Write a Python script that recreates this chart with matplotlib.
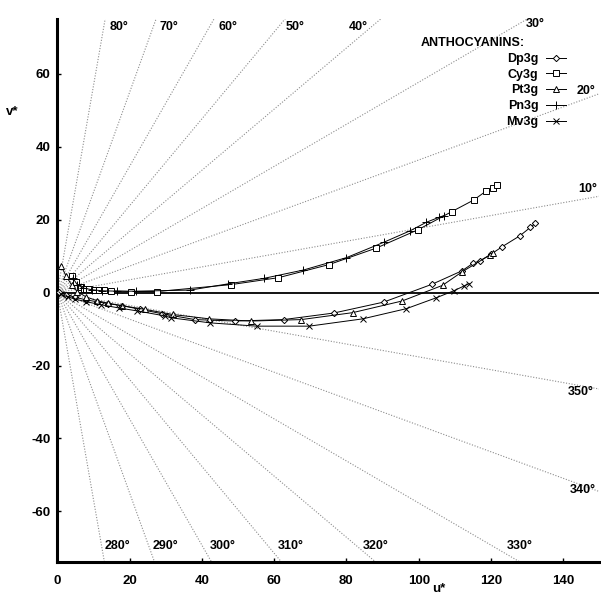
import numpy as np
import matplotlib.pyplot as plt

plt.rcParams['font.family'] = ['Liberation Sans', 'DejaVu Sans']
plt.rcParams['font.weight'] = 'bold'
plt.rcParams['axes.unicode_minus'] = False

# CIELUV u*, v* coordinates for each pigment
dp3g_u = [0.5, 2.5, 5.0, 8.0, 11.0, 14.0, 18.0, 23.0, 29.0, 38.1, 49.2, 62.6, 76.5, 90.3,
          103.7, 112.0, 115.1, 116.9, 120.1, 123.1, 128.0, 130.9, 132.3]
dp3g_v = [0.2, -0.6, -1.3, -2.0, -2.5, -3.0, -3.6, -4.6, -5.8, -7.4, -7.8, -7.4, -5.6, -2.6,
          2.3, 6.0, 8.1, 8.7, 10.6, 12.6, 15.6, 17.9, 19.0]

cy3g_u = [4.0, 5.2, 6.5, 7.5, 8.9, 10.2, 11.6, 13.0, 14.9, 20.4, 27.6, 48.1, 61.2, 75.2,
          88.2, 99.7, 109.1, 115.2, 118.7, 120.5, 121.6]
cy3g_v = [4.5, 2.8, 1.6, 1.1, 0.9, 0.8, 0.7, 0.7, 0.5, 0.3, 0.3, 2.2, 4.1, 7.7,
          12.2, 17.2, 22.2, 25.4, 27.9, 28.8, 29.4]

pt3g_u = [1.0, 2.5, 4.0, 5.5, 8.0, 11.0, 14.0, 18.0, 24.3, 31.9, 42.1, 53.7, 67.5, 81.7,
          95.4, 106.6, 112.0, 119.7, 120.5]
pt3g_v = [7.3, 4.5, 2.0, 0.3, -1.2, -2.2, -2.9, -3.6, -4.6, -6.0, -7.2, -7.8, -7.4, -5.5,
          -2.3, 2.0, 5.7, 10.3, 11.0]

pn3g_u = [4.3, 5.5, 7.0, 9.5, 12.5, 16.5, 21.8, 36.8, 47.2, 57.1, 68.1, 80.0, 90.3, 97.7,
          102.1, 105.7, 106.9]
pn3g_v = [4.0, 2.2, 1.3, 0.8, 0.5, 0.4, 0.4, 0.7, 2.4, 3.9, 6.2, 9.6, 13.8, 17.0,
          19.3, 20.7, 21.1]

mv3g_u = [1.0, 3.0, 5.0, 8.0, 12.0, 17.0, 22.0, 29.8, 31.4, 42.3, 55.2, 69.7, 84.5, 96.6,
          104.9, 109.7, 112.5, 114.0]
mv3g_v = [-0.5, -1.2, -1.8, -2.5, -3.3, -4.2, -5.0, -6.4, -6.9, -8.3, -9.2, -9.2, -7.2, -4.4,
          -1.4, 0.5, 1.8, 2.5]

# hue angle guide lines and where their labels sit
hue_angles = [10, 20, 30, 40, 50, 60, 70, 80, 280, 290, 300, 310, 320, 330, 340, 350]
hue_label_u = [144.1, 143.8, 129.7, 80.7, 63.3, 44.5, 28.4, 14.6,
               13.2, 26.3, 42.1, 61.0, 84.6, 124.4, 141.8, 141.3]
hue_label_v = [28.3, 55.4, 73.7, 73.0, 73.0, 73.0, 73.0, 73.0,
               -69.6, -69.6, -69.6, -69.6, -69.6, -69.6, -54.2, -27.3]

fig = plt.figure(figsize=(6.01, 5.96), dpi=100)
ax = fig.add_axes([57.3 / 601, 33.7 / 596, 542.1 / 601, 543 / 596])

for ang in hue_angles:
    a = np.deg2rad(ang)
    ax.plot([0, 300 * np.cos(a)], [0, 300 * np.sin(a)], color='#8c8c8c',
            lw=0.8, ls=(0, (1, 1.5)), zorder=1)
for ang, lu, lv in zip(hue_angles, hue_label_u, hue_label_v):
    ax.text(lu, lv, f'{ang}°', fontsize=9, fontweight='bold', ha='left', va='center')

ax.axhline(0, color='black', lw=1.3, zorder=2)

style = dict(color='black', lw=0.7, mfc='white', mec='black', mew=0.7, zorder=3)
ax.plot(dp3g_u, dp3g_v, marker='D', ms=3.2, label='Dp3g', **style)
ax.plot(cy3g_u, cy3g_v, marker='s', ms=4.5, label='Cy3g', **style)
ax.plot(pt3g_u, pt3g_v, marker='^', ms=4.5, label='Pt3g', **style)
ax.plot(pn3g_u, pn3g_v, marker='+', ms=6, label='Pn3g', **style)
ax.plot(mv3g_u, mv3g_v, marker='x', ms=4.5, label='Mv3g', **style)

ax.set_xlim(0, 150)
ax.set_ylim(-74, 75)
ax.set_xticks(range(0, 141, 20))
ax.set_yticks(range(-60, 61, 20))
ax.spines['top'].set_visible(False)
ax.spines['right'].set_visible(False)
ax.spines['left'].set_linewidth(2.2)
ax.spines['bottom'].set_linewidth(2.2)
ax.tick_params(axis='both', direction='in', length=3, width=1, labelsize=9.5)
ax.tick_params(axis='x', pad=9)
ax.tick_params(axis='y', pad=5)
for lab in ax.get_xticklabels() + ax.get_yticklabels():
    lab.set_fontweight('bold')

fig.text(12 / 601, 1 - 112 / 596, 'v*', fontsize=9.5, fontweight='bold',
         ha='center', va='center')
fig.text(439 / 601, 1 / 596, 'u*', fontsize=9.5, fontweight='bold',
         ha='center', va='bottom')

fig.text(421 / 601, 1 - 43 / 596, 'ANTHOCYANINS:', fontsize=9, fontweight='bold',
         ha='left', va='center')
leg = ax.legend(loc='upper right', bbox_to_anchor=(566 / 601, 1 - 53 / 596),
                bbox_transform=fig.transFigure, frameon=False, markerfirst=False,
                fontsize=9, handlelength=1.6, handletextpad=0.6, labelspacing=0.3,
                borderpad=0, borderaxespad=0)

fig.savefig('out.png', dpi=100)
